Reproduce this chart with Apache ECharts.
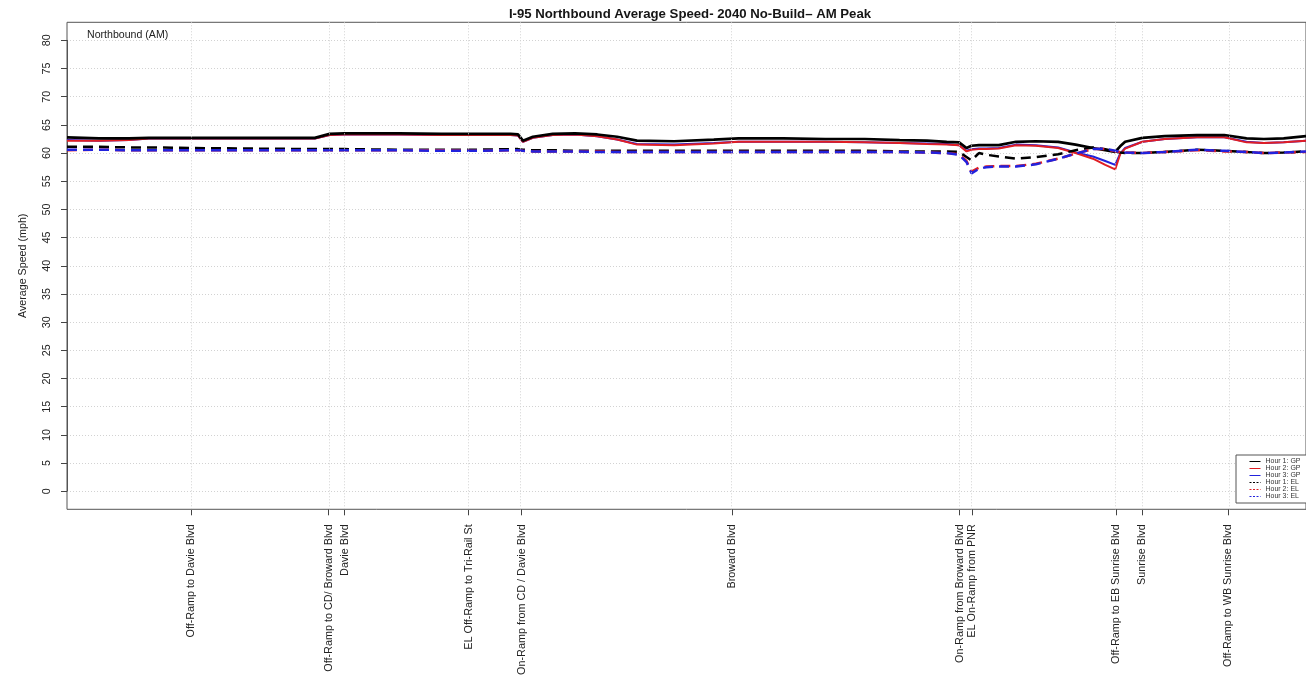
<!DOCTYPE html>
<html>
<head>
<meta charset="utf-8">
<script src="https://cdn.jsdelivr.net/npm/echarts@6/dist/echarts.min.js"></script>
<style>
  html, body { margin: 0; padding: 0; background: #ffffff; }
  #chart { width: 1306px; height: 679px; }
</style>
</head>
<body>
<div id="chart"></div>
<script>
// Stations along the corridor (miles from the south end of the segment)
const stationMiles = [0.00, 0.13, 0.25, 0.33, 0.50, 0.73, 1.00, 1.06, 1.12, 1.34, 1.51, 1.66, 1.79, 1.82, 1.84, 1.88, 1.96, 2.05, 2.14, 2.22, 2.30, 2.45, 2.61, 2.71, 2.89, 3.06, 3.22, 3.36, 3.47, 3.55, 3.60, 3.63, 3.65, 3.68, 3.71, 3.76, 3.83, 3.91, 4.00, 4.07, 4.14, 4.19, 4.23, 4.25, 4.27, 4.34, 4.43, 4.56, 4.67, 4.76, 4.83, 4.91, 5.00];

// Average speeds (mph), general purpose lanes
const hour1GP = [62.8, 62.6, 62.6, 62.7, 62.7, 62.7, 62.7, 63.4, 63.5, 63.5, 63.4, 63.4, 63.4, 63.3, 62.2, 62.9, 63.4, 63.5, 63.3, 62.9, 62.2, 62.1, 62.4, 62.6, 62.6, 62.5, 62.5, 62.3, 62.2, 62.0, 61.9, 60.9, 61.3, 61.4, 61.4, 61.4, 62.0, 62.1, 62.0, 61.5, 60.9, 60.5, 60.2, 61.2, 62.0, 62.7, 63.0, 63.2, 63.2, 62.6, 62.5, 62.6, 63.0];
const hour2GP = [62.2, 62.2, 62.3, 62.6, 62.6, 62.6, 62.6, 63.2, 63.3, 63.3, 63.2, 63.2, 63.2, 63.1, 62.0, 62.7, 63.2, 63.3, 63.0, 62.4, 61.5, 61.4, 61.7, 62.0, 62.0, 62.0, 61.9, 61.8, 61.6, 61.5, 61.4, 60.3, 60.6, 60.7, 60.7, 60.8, 61.4, 61.3, 60.9, 60.0, 59.0, 57.9, 57.1, 59.8, 60.8, 62.0, 62.5, 62.8, 62.8, 61.9, 61.8, 61.9, 62.2];
const hour3GP = [62.3, 62.2, 62.3, 62.6, 62.6, 62.6, 62.6, 63.2, 63.3, 63.3, 63.2, 63.2, 63.2, 63.1, 62.0, 62.7, 63.2, 63.3, 63.0, 62.4, 61.6, 61.5, 61.8, 62.0, 62.0, 62.0, 61.9, 61.8, 61.7, 61.6, 61.4, 60.4, 60.7, 60.8, 60.8, 60.9, 61.5, 61.4, 61.0, 60.1, 59.4, 58.6, 57.9, 59.9, 60.9, 62.0, 62.5, 62.8, 62.8, 62.0, 61.8, 61.9, 62.2];

// Average speeds (mph), express lanes
const hour1EL = [61.1, 61.1, 61.0, 61.0, 60.9, 60.8, 60.7, 60.7, 60.7, 60.6, 60.6, 60.6, 60.7, 60.7, 60.6, 60.5, 60.5, 60.4, 60.4, 60.4, 60.4, 60.4, 60.4, 60.4, 60.4, 60.4, 60.4, 60.3, 60.3, 60.3, 60.2, 59.3, 58.7, 60.0, 59.7, 59.4, 59.0, 59.3, 59.8, 60.5, 61.0, 60.7, 60.3, 60.1, 60.0, 60.0, 60.2, 60.6, 60.4, 60.2, 60.0, 60.1, 60.3];
const hour2EL = [60.5, 60.6, 60.5, 60.5, 60.5, 60.5, 60.5, 60.5, 60.5, 60.5, 60.5, 60.4, 60.5, 60.5, 60.4, 60.3, 60.3, 60.3, 60.3, 60.2, 60.2, 60.2, 60.2, 60.2, 60.2, 60.2, 60.2, 60.2, 60.1, 60.0, 59.8, 58.6, 56.7, 57.4, 57.6, 57.7, 57.7, 58.1, 59.0, 59.9, 60.7, 60.7, 60.3, 60.2, 60.1, 60.0, 60.2, 60.5, 60.3, 60.2, 60.0, 60.1, 60.2];
const hour3EL = [60.6, 60.6, 60.5, 60.5, 60.5, 60.5, 60.5, 60.5, 60.5, 60.5, 60.4, 60.4, 60.5, 60.5, 60.4, 60.3, 60.3, 60.3, 60.2, 60.2, 60.2, 60.2, 60.2, 60.2, 60.2, 60.2, 60.2, 60.2, 60.1, 60.0, 59.7, 58.4, 56.4, 57.2, 57.5, 57.6, 57.6, 58.0, 59.0, 59.9, 60.7, 60.8, 60.4, 60.2, 60.1, 60.0, 60.2, 60.6, 60.4, 60.2, 60.0, 60.1, 60.3];

// Interchange / ramp locations shown on the x axis
const rampMiles = [0.50, 1.056, 1.12, 1.621, 1.835, 2.683, 3.602, 3.653, 4.233, 4.340, 4.687];
const rampNames = [
  'Off-Ramp to Davie Blvd',
  'Off-Ramp to CD/ Broward Blvd',
  'Davie Blvd',
  'EL Off-Ramp to Tri-Rail St',
  'On-Ramp from CD / Davie Blvd',
  'Broward Blvd',
  'On-Ramp from Broward Blvd',
  'EL On-Ramp from PNR',
  'Off-Ramp to EB Sunrise Blvd',
  'Sunrise Blvd',
  'Off-Ramp to WB Sunrise Blvd'
];

// Speed axis ticks
const speedMin = 0, speedMax = 80, speedStep = 5;

const FONT = 'Liberation Sans, Arial, sans-serif';
const PLOT_LEFT = 67, PLOT_TOP = 22.3, PLOT_W = 1245, PLOT_H = 487;
const PX_PER_MPH = PLOT_H / 86.4;           // box spans -3.2 .. 83.2 mph
const DATA_TOP = PLOT_TOP + 3.2 * PX_PER_MPH;
const DATA_H = 80 * PX_PER_MPH;

function pairs(values) {
  return stationMiles.map((m, i) => [m, values[i]]);
}

function speedLine(name, values, color, width, dashed) {
  return {
    name: name,
    type: 'line',
    xAxisIndex: 1,
    yAxisIndex: 1,
    data: pairs(values),
    symbol: 'none',
    smooth: false,
    lineStyle: { color: color, width: width, type: dashed ? [10, 6] : 'solid', cap: 'butt' },
    itemStyle: { color: color }
  };
}

const gridStyle = { color: '#d2d2d2', width: 1, type: [1, 2] };

const chart = echarts.init(document.getElementById('chart'), null, { renderer: 'canvas' });

chart.setOption({
  animation: false,
  backgroundColor: '#ffffff',
  graphic: [
    {
      type: 'text', z: 10,
      style: {
        x: 690, y: 7.5, text: 'I-95 Northbound Average Speed- 2040 No-Build\u2013 AM Peak',
        textAlign: 'center', textVerticalAlign: 'top',
        font: 'bold 13.2px ' + FONT, fill: '#151515'
      }
    },
    {
      type: 'text', z: 10,
      style: {
        x: 87, y: 30, text: 'Northbound (AM)',
        textAlign: 'left', textVerticalAlign: 'top',
        font: '10.6px ' + FONT, fill: '#222'
      }
    }
  ],
  grid: [
    { left: PLOT_LEFT, top: PLOT_TOP, width: PLOT_W, height: PLOT_H, show: true, borderColor: '#555', borderWidth: 1, backgroundColor: 'transparent' },
    { left: PLOT_LEFT, top: DATA_TOP, width: PLOT_W, height: DATA_H, show: false }
  ],
  xAxis: [
    {
      gridIndex: 0, type: 'value', min: 0, max: 5, position: 'bottom',
      axisLine: { show: false, onZero: false },
      splitLine: { show: false },
      axisTick: { show: true, length: 6, customValues: rampMiles, lineStyle: { color: '#444' } },
      axisLabel: {
        show: true, rotate: 90, margin: 15, customValues: rampMiles,
        fontSize: 10.8, fontFamily: FONT, color: '#222',
        formatter: function (v) {
          for (let i = 0; i < rampMiles.length; i++) {
            if (Math.abs(rampMiles[i] - v) < 1e-6) return rampNames[i];
          }
          return '';
        }
      }
    },
    { gridIndex: 1, type: 'value', min: 0, max: 5, show: false }
  ],
  yAxis: [
    { gridIndex: 0, type: 'value', min: -3.2, max: 83.2, show: false },
    {
      gridIndex: 1, type: 'value', min: speedMin, max: speedMax, interval: speedStep,
      name: 'Average Speed (mph)', nameLocation: 'middle', nameRotate: 90, nameGap: 38,
      nameTextStyle: { fontSize: 10.7, fontFamily: FONT, color: '#222' },
      axisLine: { show: true, onZero: false, lineStyle: { color: '#555' } },
      axisTick: { show: true, length: 6, lineStyle: { color: '#444' } },
      axisLabel: { rotate: 90, margin: 14, fontSize: 10.8, fontFamily: FONT, color: '#222' },
      splitLine: { show: true, lineStyle: gridStyle }
    }
  ],
  legend: {
    orient: 'vertical', left: 1236, top: 455,
    itemWidth: 11, itemHeight: 4, itemGap: 0,
    padding: [3, 6, 3, 13],
    borderColor: '#555', borderWidth: 1, backgroundColor: '#ffffff',
    textStyle: { fontSize: 7, lineHeight: 6, color: '#333', fontFamily: FONT },
    itemStyle: { opacity: 0 },
    lineStyle: { width: 1 },
    data: [
      { name: 'Hour 1: GP' },
      { name: 'Hour 2: GP' },
      { name: 'Hour 3: GP' },
      { name: 'Hour 1: EL', lineStyle: { type: [2, 1.5] } },
      { name: 'Hour 2: EL', lineStyle: { type: [2, 1.5] } },
      { name: 'Hour 3: EL', lineStyle: { type: [2, 1.5] } }
    ]
  },
  series: [
    {
      name: 'ramp-grid', type: 'line', xAxisIndex: 0, yAxisIndex: 0, data: [],
      silent: true,
      markLine: {
        silent: true, symbol: ['none', 'none'], label: { show: false },
        lineStyle: gridStyle,
        data: rampMiles.map(m => ({ xAxis: m }))
      }
    },
    speedLine('Hour 3: GP', hour3GP, '#2222dd', 2, false),
    speedLine('Hour 2: GP', hour2GP, '#e01e24', 2, false),
    speedLine('Hour 1: GP', hour1GP, '#000000', 2.7, false),
    speedLine('Hour 1: EL', hour1EL, '#000000', 2.5, true),
    speedLine('Hour 2: EL', hour2EL, '#e01e24', 2.5, true),
    speedLine('Hour 3: EL', hour3EL, '#2222dd', 2.5, true)
  ]
});
</script>
</body>
</html>
